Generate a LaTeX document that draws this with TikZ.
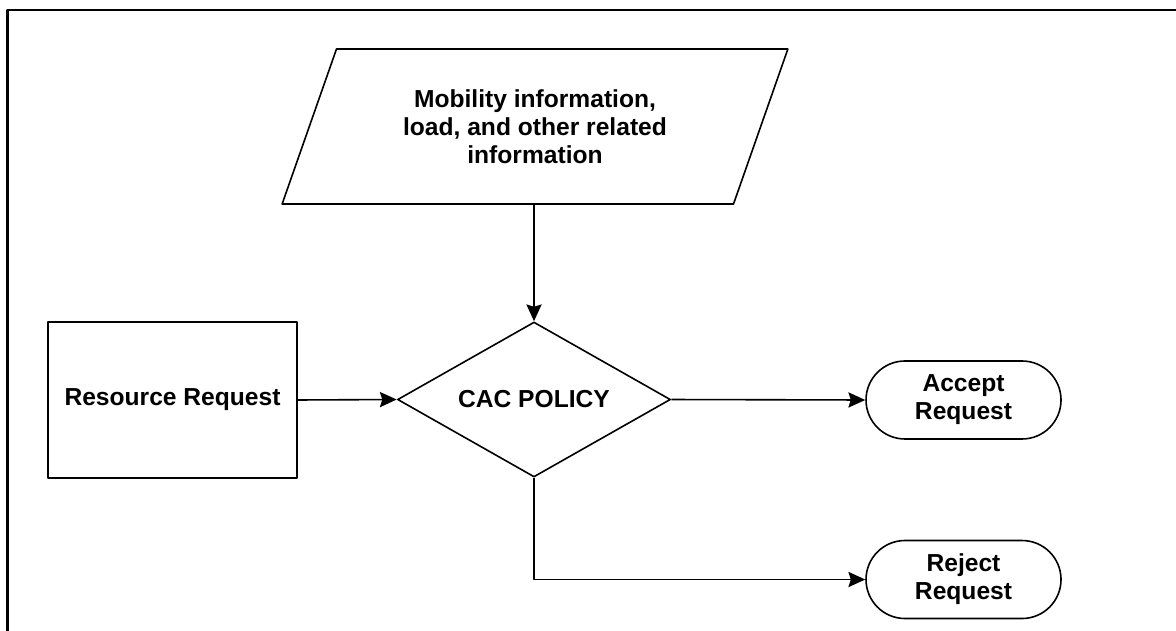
\documentclass[tikz,border=0pt]{standalone}
\usepackage{fontspec}
\setmainfont{Liberation Sans}
\usepackage{tikz}
\usetikzlibrary{arrows.meta,shapes.geometric,shapes.misc}

\begin{document}
\begin{tikzpicture}[>={Stealth[length=0.42cm,width=0.38cm,inset=0.06cm]},line join=round,
  txt/.style={font=\bfseries\fontsize{17.5}{19.8}\selectfont,align=center,inner sep=0pt},
  inbox/.style={txt,draw,line width=0.04cm,trapezium,trapezium left angle=63.9,trapezium right angle=116.1,
    trapezium stretches=true,minimum width=12.65cm,minimum height=3.875cm},
  procbox/.style={txt,draw,line width=0.04cm,rectangle,minimum width=6.225cm,minimum height=3.9cm},
  decbox/.style={txt,draw,line width=0.04cm,diamond,shape aspect=1.76,minimum width=6.825cm,minimum height=3.875cm},
  endbox/.style={txt,draw,line width=0.04cm,rounded rectangle,minimum width=4.875cm,minimum height=1.95cm},
  flow/.style={->,line width=0.04cm}]
  \useasboundingbox (0.000,0.000) rectangle (29.400,-15.775);
  % frame
  \draw[line width=0.06cm] (0.188,-15.775) -- (0.188,-0.250) -- (29.400,-0.250);
  % shapes
  \node[inbox] (info) at (13.375,-3.163) {Mobility information,\\load, and other related\\information};
  \node[procbox] (req) at (4.313,-10.000) {Resource Request};
  \node[decbox] (cac) at (13.350,-9.988) {CAC POLICY};
  \node[endbox] (acc) at (24.088,-10.000) {Accept\\Request};
  \node[endbox] (rej) at (24.088,-14.488) {Reject\\Request};
  % connectors
  \draw[flow] (cac.north |- info.south) -- (cac.north);
  \draw[flow] (req.east) -- (cac.west);
  \draw[flow] (cac.east) -- (acc.west);
  \draw[flow] (cac.south) |- (rej.west);
\end{tikzpicture}
\end{document}
